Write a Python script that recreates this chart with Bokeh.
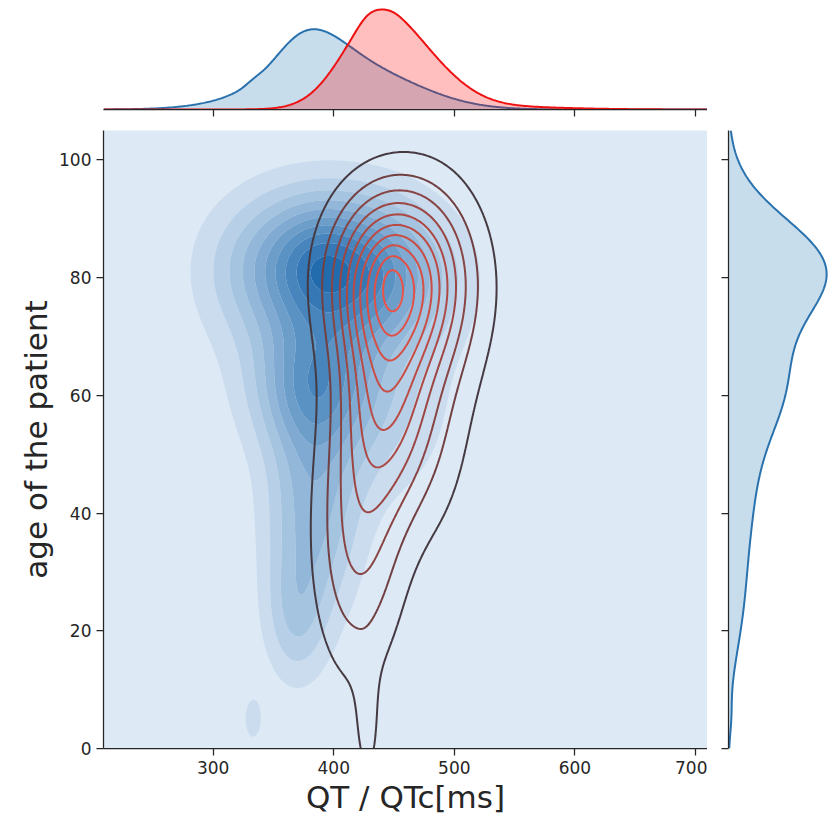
import numpy as np
from bokeh.plotting import figure
from bokeh.layouts import row, column
from bokeh.models import FixedTicker, Range1d
from bokeh.embed import file_html
from bokeh.resources import INLINE

# Axis ticks
qt_ticks = [300, 400, 500, 600, 700]
age_ticks = [0, 20, 40, 60, 80, 100]

# QT density: kernel clusters (centre QT ms, centre age, spread QT, spread age, weight)
qt_centre_qt = [385, 387, 383, 382, 368, 333, 442, 435, 330]
qt_centre_age = [83, 82, 62, 40, 22, 5, 80, 58, 72]
qt_spread_qt = [20, 50, 33, 27, 18, 6, 45, 45, 40]
qt_spread_age = [6, 8.5, 8, 13, 8, 3, 9, 12, 14]
qt_weight = [0.05, 0.55, 0.40, 0.30, 0.16, 0.12, 0.26, 0.15, 0.04]

# QTc density: kernel clusters
qtc_centre_qt = [448, 447, 485, 443, 485, 420, 428, 520]
qtc_centre_age = [80, 80, 80, 60, 55, 35, 2, 70]
qtc_spread_qt = [34, 8, 32, 26, 25, 26, 8, 60]
qtc_spread_age = [10, 4, 12, 13, 16, 16, 8, 20]
qtc_weight = [0.74, 0.07, 0.15, 0.50, 0.10, 0.30, 0.10, 0.03]

X_LO, X_HI = 209, 710
Y_LO, Y_HI = 0, 105
FONT = "DejaVu Sans"
INK = "#262626"


def clusters(cq, ca, sq, sa, w):
    return list(zip(cq, ca, sq, sa, w))


def surface(comps, X, Y):
    Z = np.zeros_like(X)
    for a, b, c, d, e in comps:
        Z += e * np.exp(-0.5 * ((X - a) / c) ** 2 - 0.5 * ((Y - b) / d) ** 2)
    return Z


def marginal_qt(comps, x):
    m = np.zeros_like(x)
    total = 0.0
    for a, b, c, d, e in comps:
        m += e * d * np.exp(-0.5 * ((x - a) / c) ** 2)
        total += e * d * c * np.sqrt(2 * np.pi)
    return m / total


def marginal_age(comps, y):
    m = np.zeros_like(y)
    total = 0.0
    for a, b, c, d, e in comps:
        m += e * c * np.exp(-0.5 * ((y - b) / d) ** 2)
        total += e * c * d * np.sqrt(2 * np.pi)
    return m / total


qt_comps = clusters(qt_centre_qt, qt_centre_age, qt_spread_qt, qt_spread_age, qt_weight)
qtc_comps = clusters(qtc_centre_qt, qtc_centre_age, qtc_spread_qt, qtc_spread_age, qtc_weight)

xs = np.linspace(X_LO, X_HI, 360)
ys = np.linspace(Y_LO, Y_HI, 300)
XX, YY = np.meshgrid(xs, ys)
z_qt = surface(qt_comps, XX, YY)
z_qtc = surface(qtc_comps, XX, YY)


def lerp(c0, c1, t):
    return "#%02x%02x%02x" % tuple(int(round(a + (b - a) * t)) for a, b in zip(c0, c1))


n_lev = 10
steps = np.arange(1, n_lev + 1) / (n_lev + 0.5)

# filled bands for QT
blue_light, blue_dark = (221, 233, 245), (34, 108, 174)
blue_palette = [lerp(blue_light, blue_dark, i / n_lev) for i in range(n_lev + 1)]
qt_levels = list(z_qt.max() * steps) + [z_qt.max() * 1.001]

# outline levels for QTc
red_dark, red_light = (70, 58, 66), (236, 82, 70)
qtc_levels = list(z_qtc.max() * steps)
red_palette = [lerp(red_dark, red_light, (i / (n_lev - 1)) ** 0.6) for i in range(n_lev)]

x_range = Range1d(X_LO, X_HI)
y_range = Range1d(Y_LO, Y_HI)


def style_axis(ax, labels=True):
    ax.axis_line_color = INK
    ax.axis_line_width = 1.25
    ax.major_tick_line_color = INK
    ax.major_tick_line_width = 1.25
    ax.major_tick_out = 7
    ax.major_tick_in = 0
    ax.minor_tick_line_color = None
    if labels:
        ax.major_label_text_font = FONT
        ax.major_label_text_font_size = "17px"
        ax.major_label_text_color = INK
        ax.major_label_standoff = 5
    else:
        ax.major_label_text_font_size = "1px"
        ax.major_label_text_color = None
        ax.major_label_standoff = 0


# ---- joint panel ----
p = figure(x_range=x_range, y_range=y_range, frame_width=604, frame_height=618,
           min_border_left=103, min_border_right=0, min_border_top=0, min_border_bottom=69,
           output_backend="svg", toolbar_location=None)
p.background_fill_color = blue_palette[0]
p.border_fill_color = "white"
p.outline_line_color = None
p.grid.grid_line_color = None

p.contour(x=xs, y=ys, z=z_qt, levels=qt_levels, fill_color=blue_palette[1:], line_color=None)
p.contour(x=xs, y=ys, z=z_qtc, levels=qtc_levels, fill_color=None, line_color=red_palette,
          line_width=2)

for ax in (p.xaxis[0], p.yaxis[0]):
    style_axis(ax)
    ax.axis_label_text_font = FONT
    ax.axis_label_text_font_size = "31px"
    ax.axis_label_text_font_style = "normal"
    ax.axis_label_text_color = INK
    ax.axis_label_standoff = 2
p.xaxis.ticker = FixedTicker(ticks=qt_ticks)
p.yaxis.ticker = FixedTicker(ticks=age_ticks)
p.xaxis.axis_label = "QT / QTc[ms]"
p.yaxis.axis_label = "age of the patient"

# ---- top marginal: QT and QTc distributions ----
mx = np.linspace(X_LO, X_HI, 500)
m_qt = marginal_qt(qt_comps, mx)
m_qtc = marginal_qt(qtc_comps, mx)
top = figure(x_range=x_range, y_range=Range1d(0, max(m_qt.max(), m_qtc.max()) * 1.09),
             frame_width=604, frame_height=109, min_border_left=103, min_border_right=0,
             min_border_top=0, min_border_bottom=21, y_axis_location=None,
             output_backend="svg", toolbar_location=None)
top.outline_line_color = None
top.grid.grid_line_color = None
top.varea(x=mx, y1=0, y2=m_qt, fill_color="#1f77b4", fill_alpha=0.25)
top.line(mx, m_qt, line_color="#2a72ad", line_width=2)
top.varea(x=mx, y1=0, y2=m_qtc, fill_color="#ff0000", fill_alpha=0.25)
top.line(mx, m_qtc, line_color="#ee1111", line_width=2)
top.xaxis.ticker = FixedTicker(ticks=qt_ticks)
style_axis(top.xaxis[0], labels=False)

# ---- right marginal: age distribution ----
my = np.linspace(Y_LO, Y_HI, 400)
m_age = marginal_age(qt_comps, my)
side = figure(x_range=Range1d(0, m_age.max() * 1.07), y_range=y_range,
              frame_width=105, frame_height=618, min_border_left=21, min_border_right=3,
              min_border_top=130, min_border_bottom=69, x_axis_location=None,
              output_backend="svg", toolbar_location=None)
side.outline_line_color = None
side.grid.grid_line_color = None
side.harea(y=my, x1=0, x2=m_age, fill_color="#1f77b4", fill_alpha=0.25)
side.line(m_age, my, line_color="#2a72ad", line_width=2)
side.yaxis.ticker = FixedTicker(ticks=age_ticks)
style_axis(side.yaxis[0], labels=False)

layout = row(column(top, p), side)
open("out.html", "w").write(file_html(layout, INLINE))
